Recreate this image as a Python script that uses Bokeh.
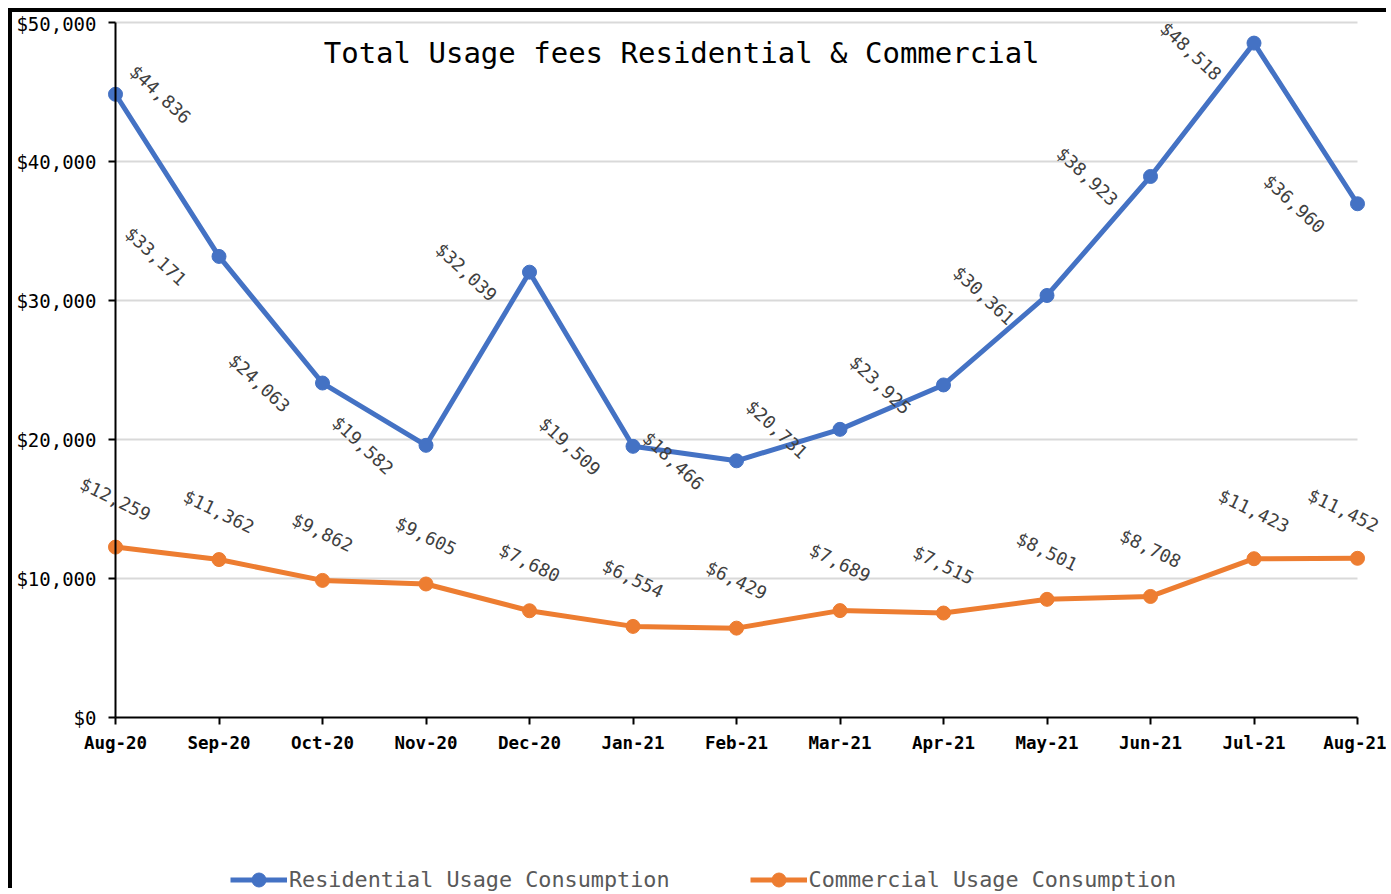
from bokeh.plotting import figure
from bokeh.models import (ColumnDataSource, Range1d, FixedTicker, NumeralTickFormatter,
                          LabelSet, Label, Legend, LegendItem)
from bokeh.core.properties import value
from bokeh.embed import file_html
from bokeh.resources import INLINE

months = ["Aug-20", "Sep-20", "Oct-20", "Nov-20", "Dec-20", "Jan-21", "Feb-21",
          "Mar-21", "Apr-21", "May-21", "Jun-21", "Jul-21", "Aug-21"]
residential = [44836, 33171, 24063, 19582, 32039, 19509, 18466, 20731, 23925, 30361, 38923, 48518, 36960]
commercial = [12259, 11362, 9862, 9605, 7680, 6554, 6429, 7689, 7515, 8501, 8708, 11423, 11452]
y_ticks = [0, 10000, 20000, 30000, 40000, 50000]
title_text = "Total Usage fees Residential & Commercial"

BLUE = "#4472C4"
ORANGE = "#ED7D31"
MONO = "DejaVu Sans Mono"

xs = list(range(len(months)))
# label placement (style): residential labels sit left of their point, first one right;
# the peak label is nudged down and the last commercial label left to stay inside the chart
res_xoff = [45] + [-63] * (len(months) - 1)
res_yoff = [0] * len(months)
res_yoff[residential.index(max(residential))] = -8
com_xoff = [0] * len(months)
com_xoff[-1] = -14

res_src = ColumnDataSource(dict(
    x=xs, y=residential, label=[f"${v:,}" for v in residential], xoff=res_xoff, yoff=res_yoff))
com_src = ColumnDataSource(dict(
    x=xs, y=commercial, label=[f"${v:,}" for v in commercial], xoff=com_xoff))

# frame covers the whole canvas so that labels / legend are not clipped;
# data area (0..12, 0..50000) sits where the reference's axes are
W, H = 1378, 880
LEFT, TOP = 12, 12            # canvas origin on the page
AX_L, AX_R, AX_T, AX_B = 115, 1357, 22, 717
ppx = (AX_R - AX_L) / (len(months) - 1)
ppy = (AX_B - AX_T) / y_ticks[-1]
x_range = Range1d((LEFT - AX_L) / ppx, (len(months) - 1) + (LEFT + W - AX_R) / ppx)
y_range = Range1d(-(TOP + H - AX_B) / ppy, y_ticks[-1] + (AX_T - TOP) / ppy)

p = figure(width=W, height=H, output_backend="svg", toolbar_location=None,
           x_range=x_range, y_range=y_range, min_border=0,
           min_border_left=0, min_border_right=0, min_border_top=0, min_border_bottom=0)
p.styles = {"border-top": "4px solid black", "border-left": "4px solid black",
            "margin-left": "8px", "margin-top": "8px"}
p.outline_line_color = None
p.background_fill_color = "white"
p.border_fill_color = "white"

# axes, anchored at the data origin
p.xaxis.fixed_location = 0
p.xaxis.bounds = (0, len(months) - 1)
p.yaxis.fixed_location = 0
p.yaxis.bounds = (0, y_ticks[-1])
p.xaxis.ticker = FixedTicker(ticks=xs)
p.xaxis.major_label_overrides = {i: m for i, m in enumerate(months)}
p.xaxis.major_label_text_font = MONO
p.xaxis.major_label_text_font_style = "bold"
p.xaxis.major_label_text_font_size = "17.5px"
p.xaxis.major_label_text_color = "black"
p.xaxis.major_label_standoff = 8
p.yaxis.ticker = FixedTicker(ticks=y_ticks)
p.yaxis.formatter = NumeralTickFormatter(format="$0,0")
p.yaxis.major_label_text_font = MONO
p.yaxis.major_label_text_font_size = "19px"
p.yaxis.major_label_text_color = "black"
p.yaxis.major_label_standoff = 12
for ax in (p.xaxis, p.yaxis):
    ax.axis_line_color = "black"
    ax.axis_line_width = 2
    ax.major_tick_line_color = "black"
    ax.major_tick_line_width = 2
    ax.major_tick_out = 7
    ax.major_tick_in = 0
    ax.minor_tick_line_color = None
p.xgrid.grid_line_color = None
p.ygrid.ticker = FixedTicker(ticks=y_ticks[1:])
p.ygrid.cross_bounds = (0, len(months) - 1)
p.ygrid.grid_line_color = "#D9D9D9"
p.ygrid.grid_line_width = 2

# series
r_line = p.line("x", "y", source=res_src, line_color=BLUE, line_width=5)
r_pts = p.scatter("x", "y", source=res_src, size=14, fill_color=BLUE, line_color=BLUE)
c_line = p.line("x", "y", source=com_src, line_color=ORANGE, line_width=5)
c_pts = p.scatter("x", "y", source=com_src, size=14, fill_color=ORANGE, line_color=ORANGE)

# data labels
res_labels = LabelSet(x="x", y="y", text="label", source=res_src, x_offset="xoff", y_offset="yoff",
                      angle=-43, angle_units="deg", text_align="center", text_baseline="middle",
                      text_font=value(MONO), text_font_size="18px", text_color="#404040")
com_labels = LabelSet(x="x", y="y", text="label", source=com_src, x_offset="xoff", y_offset=48,
                      angle=-26, angle_units="deg", text_align="center", text_baseline="middle",
                      text_font=value(MONO), text_font_size="18px", text_color="#404040")
p.add_layout(res_labels)
p.add_layout(com_labels)

# title inside plot
p.add_layout(Label(x=5.47, y=47770, text=title_text, text_align="center", text_baseline="middle",
                   text_font=MONO, text_font_size="29px", text_color="black"))

legend = Legend(items=[
    LegendItem(label="Residential Usage Consumption", renderers=[r_line, r_pts]),
    LegendItem(label="Commercial Usage Consumption", renderers=[c_line, c_pts]),
], orientation="horizontal", location=(218, -5), glyph_width=57, glyph_height=35,
    label_standoff=2, spacing=80, padding=0, margin=0, border_line_color=None,
    background_fill_alpha=0, label_text_font=MONO, label_text_font_size="21.8px",
    label_text_color="#595959")
p.add_layout(legend)

open("out.html", "w").write(file_html(p, INLINE))
